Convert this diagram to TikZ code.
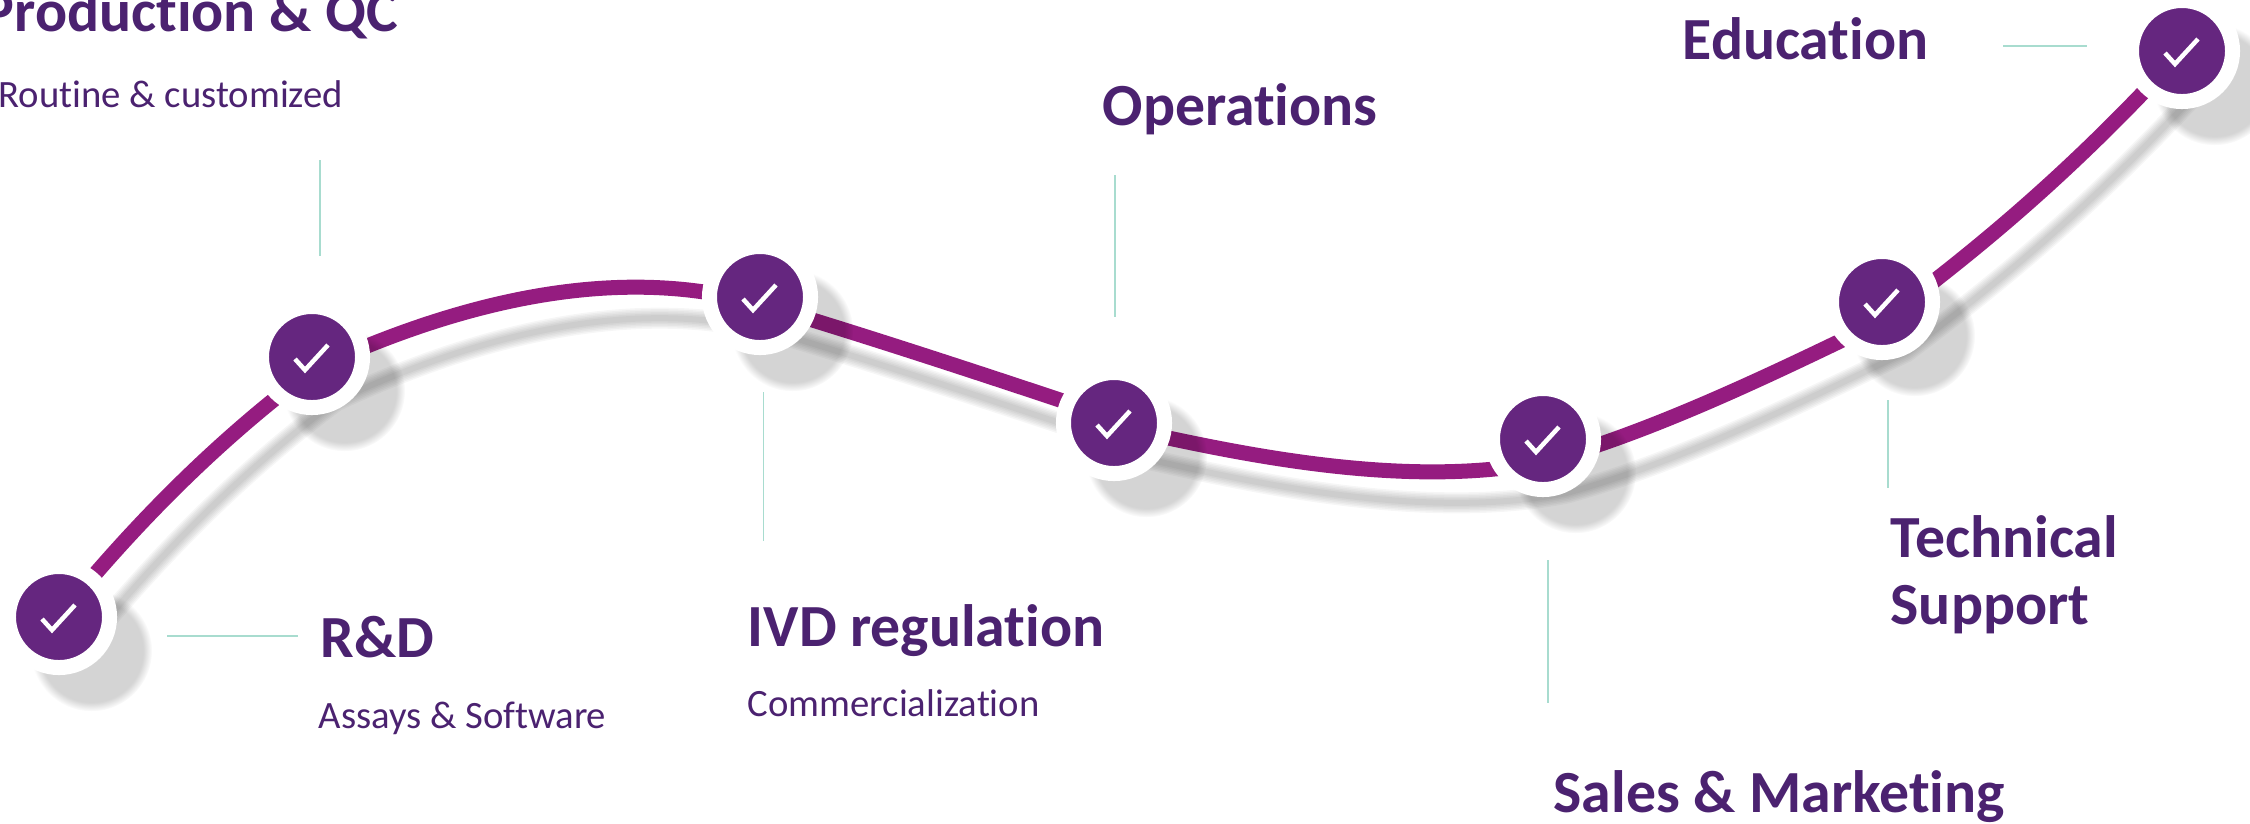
\documentclass[tikz,border=0pt]{standalone}
\usepackage{fontspec}
\setmainfont[Ligatures=NoCommon]{Carlito}
\usetikzlibrary{backgrounds,shadows,fadings}
\definecolor{trackpurple}{HTML}{951C80}
\definecolor{dotpurple}{HTML}{65267F}
\definecolor{textpurple}{HTML}{4B2270}
\definecolor{leadermint}{HTML}{A8DCCF}
\tikzset{
  dot/.style={circle, inner sep=0pt, minimum size=1.01cm, fill=dotpurple, draw=white, line width=0.15cm,
    circular drop shadow={shadow xshift=0.27cm, shadow yshift=-0.28cm, shadow scale=1.2, opacity=.17, fill=black},
    path picture={\draw[white, line width=0.045cm] (path picture bounding box.center) ++(-17,2) -- ++(10,11) -- ++(23,-25);}},
  title/.style={anchor=base west, inner sep=0pt, text=textpurple, font=\bfseries\fontsize{17}{19}\selectfont},
  subtitle/.style={anchor=base west, inner sep=0pt, text=textpurple, font=\fontsize{11}{12}\selectfont},
  track/.style={trackpurple, line width=0.15cm},
  trackshadow/.style={black, opacity=.035, transform canvas={shift={(24,31)}}},
  leader/.style={leadermint, line width=0.015cm}
}
\newcommand{\trackpath}{(dotA.center) .. controls (142,515) and (225,435) .. (312,370)
  .. controls (430,315) and (600,258) .. (760,304)
  .. controls (880,340) and (1000,380) .. (1114,418) -- (1114,426)
  .. controls (1230,452) and (1400,490) .. (1543,462)
  .. controls (1660,430) and (1790,365) .. (1882,321)
  .. controls (1960,262) and (2060,185) .. (dotG.center)}
\begin{document}
\begin{tikzpicture}[x=0.01cm, y=-0.01cm]
\useasboundingbox (0,0) rectangle (2250,823);
% checkpoints
  \node[dot] (dotA) at (59,617) {};
  \node[dot] (dotB) at (312,357) {};
  \node[dot] (dotC) at (760,297) {};
  \node[dot] (dotD) at (1114,423) {};
  \node[dot] (dotE) at (1543,439) {};
  \node[dot] (dotF) at (1882,302) {};
  \node[dot] (dotG) at (2182,51) {};
% R&D
  \node[title] (rd) at (320,657) {R\&D};
  \node[subtitle] (rdsub) at (318,728) {Assays \& Software};
% Production & QC
  \node[title] (prod) at (-18,31) {Production \& QC};
  \node[subtitle] (prodsub) at (-2,107) {Routine \& customized};
% IVD regulation
  \node[title] (ivd) at (747,646) {IVD regulation};
  \node[subtitle] (ivdsub) at (747,716) {Commercialization};
% Operations
  \node[title] (ops) at (1102,125) {Operations};
% Sales & Marketing
  \node[title] (sales) at (1553,812) {Sales \& Marketing};
% Technical Support
  \node[title, anchor=north west, align=left] (tech) at (1890,515) {Technical\\Support};
% Education
  \node[title] (edu) at (1682,59) {Education};
%%%%%%%%%%%%%%%%
\coordinate (rdA) at (167,636);
\coordinate (rdB) at (298,636);
\coordinate (prodA) at (320,160);
\coordinate (prodB) at (320,256);
\coordinate (ivdA) at (763.5,392);
\coordinate (ivdB) at (763.5,541);
\coordinate (opsA) at (1115,175);
\coordinate (opsB) at (1115,317);
\coordinate (salesA) at (1548,560);
\coordinate (salesB) at (1548,703);
\coordinate (techA) at (1888,400);
\coordinate (techB) at (1888,488);
\coordinate (eduA) at (2003,46);
\coordinate (eduB) at (2087,46);
\draw[leader] (rdA) -- (rdB);
\draw[leader] (prodA) -- (prodB);
\draw[leader] (ivdA) -- (ivdB);
\draw[leader] (opsA) -- (opsB);
\draw[leader] (salesA) -- (salesB);
\draw[leader] (techA) -- (techB);
\draw[leader] (eduA) -- (eduB);
\begin{scope}[on background layer]
\draw[trackshadow, line width=0.21cm] \trackpath;
\draw[trackshadow, line width=0.18cm] \trackpath;
\draw[trackshadow, line width=0.15cm] \trackpath;
\draw[trackshadow, line width=0.12cm] \trackpath;
\draw[trackshadow, line width=0.09cm] \trackpath;
\draw[trackshadow, line width=0.06cm] \trackpath;
\draw[track] \trackpath;
\end{scope}
\end{tikzpicture}
\end{document}
